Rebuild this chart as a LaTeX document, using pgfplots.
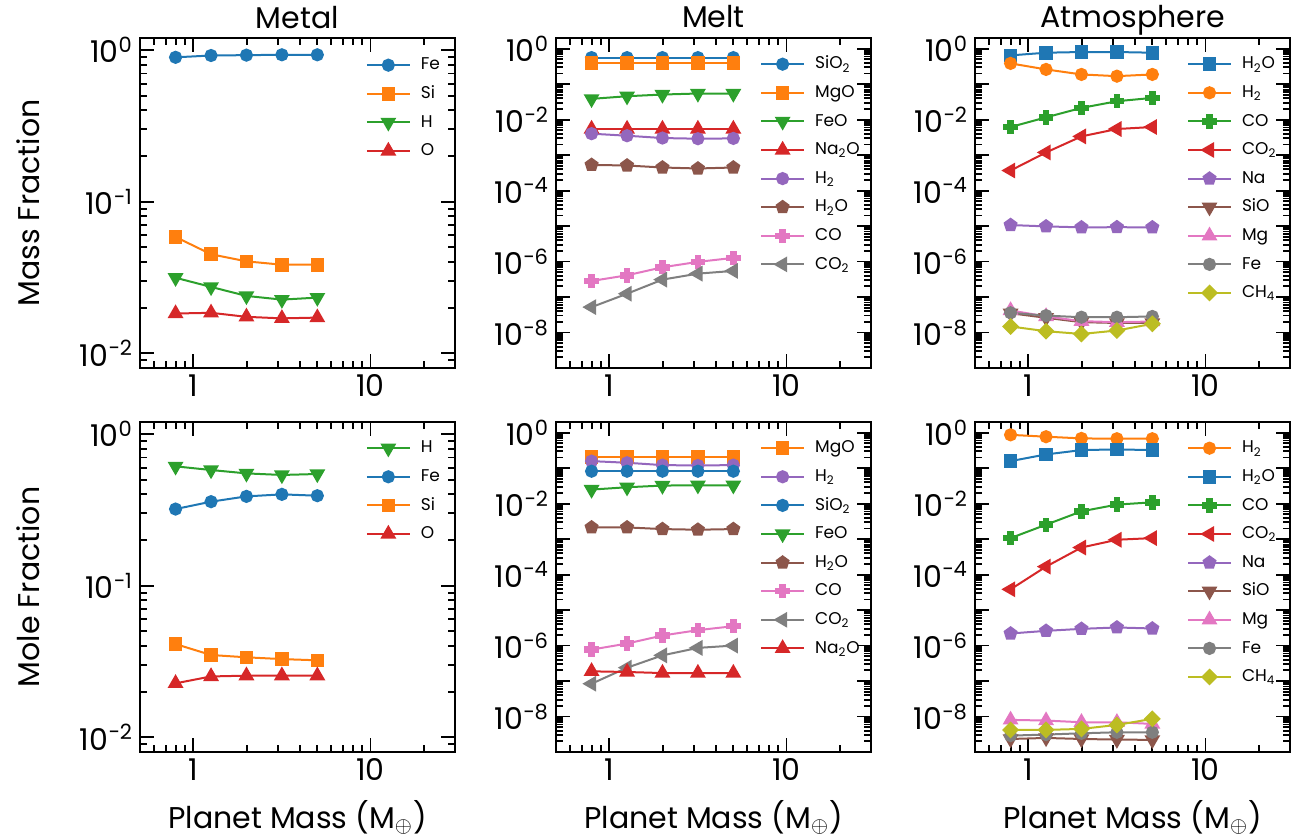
\documentclass[border=0pt]{standalone}
\usepackage{fontspec}
\setmainfont{Poppins}
\usepackage{pgfplots}
\pgfplotsset{compat=1.18}
\definecolor{tabblue}{HTML}{1F77B4}
\definecolor{taborange}{HTML}{FF7F0E}
\definecolor{tabgreen}{HTML}{2CA02C}
\definecolor{tabred}{HTML}{D62728}
\definecolor{tabpurple}{HTML}{9467BD}
\definecolor{tabbrown}{HTML}{8C564B}
\definecolor{tabpink}{HTML}{E377C2}
\definecolor{tabgray}{HTML}{7F7F7F}
\definecolor{tabolive}{HTML}{BCBD22}
\pgfdeclareplotmark{Pplus}{%
  \pgfpathmoveto{\pgfqpoint{-0.36\pgfplotmarksize}{\pgfplotmarksize}}%
  \pgfpathlineto{\pgfqpoint{0.36\pgfplotmarksize}{\pgfplotmarksize}}%
  \pgfpathlineto{\pgfqpoint{0.36\pgfplotmarksize}{0.36\pgfplotmarksize}}%
  \pgfpathlineto{\pgfqpoint{\pgfplotmarksize}{0.36\pgfplotmarksize}}%
  \pgfpathlineto{\pgfqpoint{\pgfplotmarksize}{-0.36\pgfplotmarksize}}%
  \pgfpathlineto{\pgfqpoint{0.36\pgfplotmarksize}{-0.36\pgfplotmarksize}}%
  \pgfpathlineto{\pgfqpoint{0.36\pgfplotmarksize}{-\pgfplotmarksize}}%
  \pgfpathlineto{\pgfqpoint{-0.36\pgfplotmarksize}{-\pgfplotmarksize}}%
  \pgfpathlineto{\pgfqpoint{-0.36\pgfplotmarksize}{-0.36\pgfplotmarksize}}%
  \pgfpathlineto{\pgfqpoint{-\pgfplotmarksize}{-0.36\pgfplotmarksize}}%
  \pgfpathlineto{\pgfqpoint{-\pgfplotmarksize}{0.36\pgfplotmarksize}}%
  \pgfpathlineto{\pgfqpoint{-0.36\pgfplotmarksize}{0.36\pgfplotmarksize}}%
  \pgfpathclose\pgfusepathqfillstroke}
\newcommand\pw[1]{10\textsuperscript{#1}}
\tikzset{
  mkO/.style={mark=*, mark size=2.8pt},
  mkS/.style={mark=square*, mark size=2.9pt},
  mkV/.style={mark=triangle*, mark size=3.6pt, mark options={rotate=180}},
  mkA/.style={mark=triangle*, mark size=3.6pt},
  mkL/.style={mark=triangle*, mark size=3.6pt, mark options={rotate=90}},
  mkPe/.style={mark=pentagon*, mark size=3.1pt},
  mkP/.style={mark=Pplus, mark size=3.1pt},
  mkD/.style={mark=square*, mark size=2.5pt, mark options={rotate=45}},
}
\pgfplotsset{
  every axis/.append style={
    scale only axis, width=157.5pt, height=165pt,
    xmin=0.5, xmax=30, xtick={1,10}, xticklabels={1,10},
    minor xtick={0.5,0.6,0.7,0.8,0.9,2,3,4,5,6,7,8,9,20,30},
    tick align=inside, major tick length=7pt, minor tick length=3.5pt,
    tick style={black, line width=0.9pt},
    axis line style={line width=1.4pt},
    tick label style={font=\fontsize{15}{18}\selectfont},
    xticklabel style={inner sep=1pt, yshift=-2pt},
    label style={font=\fontsize{15}{18}\selectfont},
    title style={font=\fontsize{15}{18}\selectfont, at={(axis description cs:0.5,1)}, anchor=base, yshift=-1pt},
    xlabel style={at={(axis description cs:0.5,0)}, anchor=base, yshift=-38pt},
    ylabel style={at={(axis description cs:-0.3206,0.5)}, anchor=base},
    legend style={draw=none, fill=none, font=\fontsize{8.5}{9}\selectfont, inner sep=0pt, outer sep=0pt,
      row sep=6.6pt, column sep=5pt, anchor=north west,
      nodes={inner sep=0pt, text height=6.2pt, text depth=1.5pt}},
    legend cell align=left,
    legend image code/.code={\draw[mark repeat=2,mark phase=2] plot coordinates {(0pt,0pt) (10.75pt,0pt) (21.5pt,0pt)};},
  },
  every axis plot/.append style={line width=1pt},
}
\begin{document}
\begin{tikzpicture}
\useasboundingbox (0,0) rectangle (652pt,418.5pt);
% ---------- Top left: Metal mass
\begin{loglogaxis}[at={(70pt,234.5pt)}, anchor=south west, title={Metal}, ylabel={Mass Fraction},
  ymin=0.008, ymax=1.2, ytick={0.01,0.1,1}, yticklabels={\pw{−2},\pw{−1},\pw{0}},
  minor ytick={0.008,0.009,0.02,0.03,0.04,0.05,0.06,0.07,0.08,0.09,0.2,0.3,0.4,0.5,0.6,0.7,0.8,0.9},
  legend style={at={(axis description cs:0.717,0.941)}}]
\addplot[tabblue, mkO] coordinates {(0.794,0.895) (1.259,0.92) (1.995,0.925) (3.162,0.93) (5.012,0.93)};
\addlegendentry{Fe}
\addplot[taborange, mkS] coordinates {(0.794,0.0585) (1.259,0.045) (1.995,0.0404) (3.162,0.0384) (5.012,0.0384)};
\addlegendentry{Si}
\addplot[tabgreen, mkV] coordinates {(0.794,0.0315) (1.259,0.0274) (1.995,0.0239) (3.162,0.0226) (5.012,0.0233)};
\addlegendentry{H}
\addplot[tabred, mkA] coordinates {(0.794,0.0183) (1.259,0.0185) (1.995,0.0174) (3.162,0.0170) (5.012,0.0172)};
\addlegendentry{O}
\end{loglogaxis}
% ---------- Top middle: Melt mass
\begin{loglogaxis}[at={(278pt,234.5pt)}, anchor=south west, title={Melt},
  ymin=1e-9, ymax=2, ytick={1e-9,1e-8,1e-7,1e-6,1e-5,1e-4,1e-3,1e-2,1e-1,1},
  yticklabels={,\pw{−8},,\pw{−6},,\pw{−4},,\pw{−2},,\pw{0}},
  minor ytick={2e-9,3e-9,4e-9,5e-9,6e-9,7e-9,8e-9,9e-9,2e-8,3e-8,4e-8,5e-8,6e-8,7e-8,8e-8,9e-8,2e-7,3e-7,4e-7,5e-7,6e-7,7e-7,8e-7,9e-7,2e-6,3e-6,4e-6,5e-6,6e-6,7e-6,8e-6,9e-6,2e-5,3e-5,4e-5,5e-5,6e-5,7e-5,8e-5,9e-5,2e-4,3e-4,4e-4,5e-4,6e-4,7e-4,8e-4,9e-4,2e-3,3e-3,4e-3,5e-3,6e-3,7e-3,8e-3,9e-3,2e-2,3e-2,4e-2,5e-2,6e-2,7e-2,8e-2,9e-2,0.2,0.3,0.4,0.5,0.6,0.7,0.8,0.9},
  legend style={at={(axis description cs:0.648,0.944)}}]
\addplot[tabblue, mkO] coordinates {(0.794,0.56) (1.259,0.56) (1.995,0.56) (3.162,0.56) (5.012,0.56)};
\addlegendentry{SiO\textsubscript{2}}
\addplot[taborange, mkS] coordinates {(0.794,0.40) (1.259,0.40) (1.995,0.40) (3.162,0.40) (5.012,0.40)};
\addlegendentry{MgO}
\addplot[tabgreen, mkV] coordinates {(0.794,0.0385) (1.259,0.0457) (1.995,0.051) (3.162,0.0545) (5.012,0.0545)};
\addlegendentry{FeO}
\addplot[tabred, mkA] coordinates {(0.794,0.00545) (1.259,0.00545) (1.995,0.00545) (3.162,0.00545) (5.012,0.00545)};
\addlegendentry{Na\textsubscript{2}O}
\addplot[tabpurple, mkO] coordinates {(0.794,0.00402) (1.259,0.00352) (1.995,0.00303) (3.162,0.0029) (5.012,0.00296)};
\addlegendentry{H\textsubscript{2}}
\addplot[tabbrown, mkPe] coordinates {(0.794,5.3e-4) (1.259,5.1e-4) (1.995,4.48e-4) (3.162,4.2e-4) (5.012,4.48e-4)};
\addlegendentry{H\textsubscript{2}O}
\addplot[tabpink, mkP] coordinates {(0.794,2.84e-7) (1.259,4.1e-7) (1.995,6.9e-7) (3.162,9.8e-7) (5.012,1.27e-6)};
\addlegendentry{CO}
\addplot[tabgray, mkL] coordinates {(0.794,5.2e-8) (1.259,1.24e-7) (1.995,3.1e-7) (3.162,4.57e-7) (5.012,5.45e-7)};
\addlegendentry{CO\textsubscript{2}}
\end{loglogaxis}
% ---------- Top right: Atmosphere mass
\begin{loglogaxis}[at={(487.5pt,234.5pt)}, anchor=south west, title={Atmosphere},
  ymin=1e-9, ymax=2, ytick={1e-9,1e-8,1e-7,1e-6,1e-5,1e-4,1e-3,1e-2,1e-1,1},
  yticklabels={,\pw{−8},,\pw{−6},,\pw{−4},,\pw{−2},,\pw{0}},
  minor ytick={2e-9,3e-9,4e-9,5e-9,6e-9,7e-9,8e-9,9e-9,2e-8,3e-8,4e-8,5e-8,6e-8,7e-8,8e-8,9e-8,2e-7,3e-7,4e-7,5e-7,6e-7,7e-7,8e-7,9e-7,2e-6,3e-6,4e-6,5e-6,6e-6,7e-6,8e-6,9e-6,2e-5,3e-5,4e-5,5e-5,6e-5,7e-5,8e-5,9e-5,2e-4,3e-4,4e-4,5e-4,6e-4,7e-4,8e-4,9e-4,2e-3,3e-3,4e-3,5e-3,6e-3,7e-3,8e-3,9e-3,2e-2,3e-2,4e-2,5e-2,6e-2,7e-2,8e-2,9e-2,0.2,0.3,0.4,0.5,0.6,0.7,0.8,0.9},
  legend style={at={(axis description cs:0.673,0.944)}}]
\addplot[tabblue, mkS] coordinates {(0.794,0.647) (1.259,0.77) (1.995,0.805) (3.162,0.805) (5.012,0.77)};
\addlegendentry{H\textsubscript{2}O}
\addplot[taborange, mkO] coordinates {(0.794,0.385) (1.259,0.26) (1.995,0.188) (3.162,0.168) (5.012,0.188)};
\addlegendentry{H\textsubscript{2}}
\addplot[tabgreen, mkP] coordinates {(0.794,6.2e-3) (1.259,0.0116) (1.995,0.0214) (3.162,0.033) (5.012,0.041)};
\addlegendentry{CO}
\addplot[tabred, mkL] coordinates {(0.794,3.68e-4) (1.259,1.19e-3) (1.995,3.37e-3) (3.162,5.44e-3) (5.012,6.2e-3)};
\addlegendentry{CO\textsubscript{2}}
\addplot[tabpurple, mkPe] coordinates {(0.794,1.07e-5) (1.259,9.8e-6) (1.995,9.2e-6) (3.162,9.3e-6) (5.012,9.2e-6)};
\addlegendentry{Na}
\addplot[tabbrown, mkV] coordinates {(0.794,3.5e-8) (1.259,2.6e-8) (1.995,1.96e-8) (3.162,1.86e-8) (5.012,1.86e-8)};
\addlegendentry{SiO}
\addplot[tabpink, mkA] coordinates {(0.794,4.2e-8) (1.259,2.84e-8) (1.995,2.09e-8) (3.162,1.96e-8) (5.012,2.04e-8)};
\addlegendentry{Mg}
\addplot[tabgray, mkO] coordinates {(0.794,3.6e-8) (1.259,3.0e-8) (1.995,2.7e-8) (3.162,2.7e-8) (5.012,2.84e-8)};
\addlegendentry{Fe}
\addplot[tabolive, mkD] coordinates {(0.794,1.48e-8) (1.259,1.09e-8) (1.995,9.1e-9) (3.162,1.14e-8) (5.012,1.76e-8)};
\addlegendentry{CH\textsubscript{4}}
\end{loglogaxis}
% ---------- Bottom left: Metal mole
\begin{loglogaxis}[at={(70pt,42.5pt)}, anchor=south west, ylabel={Mole Fraction}, xlabel={Planet Mass (M$_\oplus$)},
  ymin=0.008, ymax=1.2, ytick={0.01,0.1,1}, yticklabels={\pw{−2},\pw{−1},\pw{0}},
  minor ytick={0.008,0.009,0.02,0.03,0.04,0.05,0.06,0.07,0.08,0.09,0.2,0.3,0.4,0.5,0.6,0.7,0.8,0.9},
  legend style={at={(axis description cs:0.717,0.944)}}]
\addplot[tabgreen, mkV] coordinates {(0.794,0.612) (1.259,0.579) (1.995,0.550) (3.162,0.537) (5.012,0.545)};
\addlegendentry{H}
\addplot[tabblue, mkO] coordinates {(0.794,0.320) (1.259,0.358) (1.995,0.388) (3.162,0.400) (5.012,0.392)};
\addlegendentry{Fe}
\addplot[taborange, mkS] coordinates {(0.794,0.0412) (1.259,0.0349) (1.995,0.0337) (3.162,0.0328) (5.012,0.0322)};
\addlegendentry{Si}
\addplot[tabred, mkA] coordinates {(0.794,0.0227) (1.259,0.0252) (1.995,0.0255) (3.162,0.0255) (5.012,0.0255)};
\addlegendentry{O}
\end{loglogaxis}
% ---------- Bottom middle: Melt mole
\begin{loglogaxis}[at={(278pt,42.5pt)}, anchor=south west, xlabel={Planet Mass (M$_\oplus$)},
  ymin=1e-9, ymax=2, ytick={1e-9,1e-8,1e-7,1e-6,1e-5,1e-4,1e-3,1e-2,1e-1,1},
  yticklabels={,\pw{−8},,\pw{−6},,\pw{−4},,\pw{−2},,\pw{0}},
  minor ytick={2e-9,3e-9,4e-9,5e-9,6e-9,7e-9,8e-9,9e-9,2e-8,3e-8,4e-8,5e-8,6e-8,7e-8,8e-8,9e-8,2e-7,3e-7,4e-7,5e-7,6e-7,7e-7,8e-7,9e-7,2e-6,3e-6,4e-6,5e-6,6e-6,7e-6,8e-6,9e-6,2e-5,3e-5,4e-5,5e-5,6e-5,7e-5,8e-5,9e-5,2e-4,3e-4,4e-4,5e-4,6e-4,7e-4,8e-4,9e-4,2e-3,3e-3,4e-3,5e-3,6e-3,7e-3,8e-3,9e-3,2e-2,3e-2,4e-2,5e-2,6e-2,7e-2,8e-2,9e-2,0.2,0.3,0.4,0.5,0.6,0.7,0.8,0.9},
  legend style={at={(axis description cs:0.648,0.944)}}]
\addplot[taborange, mkS] coordinates {(0.794,0.205) (1.259,0.205) (1.995,0.205) (3.162,0.205) (5.012,0.205)};
\addlegendentry{MgO}
\addplot[tabpurple, mkO] coordinates {(0.794,0.158) (1.259,0.142) (1.995,0.122) (3.162,0.119) (5.012,0.122)};
\addlegendentry{H\textsubscript{2}}
\addplot[tabblue, mkO] coordinates {(0.794,0.082) (1.259,0.082) (1.995,0.082) (3.162,0.082) (5.012,0.082)};
\addlegendentry{SiO\textsubscript{2}}
\addplot[tabgreen, mkV] coordinates {(0.794,0.0249) (1.259,0.029) (1.995,0.0323) (3.162,0.033) (5.012,0.033)};
\addlegendentry{FeO}
\addplot[tabbrown, mkPe] coordinates {(0.794,2.14e-3) (1.259,2.14e-3) (1.995,1.92e-3) (3.162,1.84e-3) (5.012,1.92e-3)};
\addlegendentry{H\textsubscript{2}O}
\addplot[tabpink, mkP] coordinates {(0.794,7.7e-7) (1.259,1.14e-6) (1.995,1.92e-6) (3.162,2.72e-6) (5.012,3.52e-6)};
\addlegendentry{CO}
\addplot[tabgray, mkL] coordinates {(0.794,8.4e-8) (1.259,2.38e-7) (1.995,5.3e-7) (3.162,8.6e-7) (5.012,1.0e-6)};
\addlegendentry{CO\textsubscript{2}}
\addplot[tabred, mkA] coordinates {(0.794,1.88e-7) (1.259,1.8e-7) (1.995,1.68e-7) (3.162,1.68e-7) (5.012,1.68e-7)};
\addlegendentry{Na\textsubscript{2}O}
\end{loglogaxis}
% ---------- Bottom right: Atmosphere mole
\begin{loglogaxis}[at={(487.5pt,42.5pt)}, anchor=south west, xlabel={Planet Mass (M$_\oplus$)},
  ymin=1e-9, ymax=2, ytick={1e-9,1e-8,1e-7,1e-6,1e-5,1e-4,1e-3,1e-2,1e-1,1},
  yticklabels={,\pw{−8},,\pw{−6},,\pw{−4},,\pw{−2},,\pw{0}},
  minor ytick={2e-9,3e-9,4e-9,5e-9,6e-9,7e-9,8e-9,9e-9,2e-8,3e-8,4e-8,5e-8,6e-8,7e-8,8e-8,9e-8,2e-7,3e-7,4e-7,5e-7,6e-7,7e-7,8e-7,9e-7,2e-6,3e-6,4e-6,5e-6,6e-6,7e-6,8e-6,9e-6,2e-5,3e-5,4e-5,5e-5,6e-5,7e-5,8e-5,9e-5,2e-4,3e-4,4e-4,5e-4,6e-4,7e-4,8e-4,9e-4,2e-3,3e-3,4e-3,5e-3,6e-3,7e-3,8e-3,9e-3,2e-2,3e-2,4e-2,5e-2,6e-2,7e-2,8e-2,9e-2,0.2,0.3,0.4,0.5,0.6,0.7,0.8,0.9},
  legend style={at={(axis description cs:0.673,0.944)}}]
\addplot[taborange, mkO] coordinates {(0.794,0.87) (1.259,0.77) (1.995,0.69) (3.162,0.676) (5.012,0.676)};
\addlegendentry{H\textsubscript{2}}
\addplot[tabblue, mkS] coordinates {(0.794,0.158) (1.259,0.244) (1.995,0.323) (3.162,0.338) (5.012,0.323)};
\addlegendentry{H\textsubscript{2}O}
\addplot[tabgreen, mkP] coordinates {(0.794,1.07e-3) (1.259,2.55e-3) (1.995,6.07e-3) (3.162,9.4e-3) (5.012,0.0109)};
\addlegendentry{CO}
\addplot[tabred, mkL] coordinates {(0.794,3.85e-5) (1.259,1.68e-4) (1.995,5.8e-4) (3.162,9.6e-4) (5.012,1.07e-3)};
\addlegendentry{CO\textsubscript{2}}
\addplot[tabpurple, mkPe] coordinates {(0.794,2.19e-6) (1.259,2.6e-6) (1.995,2.96e-6) (3.162,3.24e-6) (5.012,3.03e-6)};
\addlegendentry{Na}
\addplot[tabbrown, mkV] coordinates {(0.794,2.33e-9) (1.259,2.49e-9) (1.995,2.33e-9) (3.162,2.24e-9) (5.012,2.2e-9)};
\addlegendentry{SiO}
\addplot[tabpink, mkA] coordinates {(0.794,8.05e-9) (1.259,7.7e-9) (1.995,6.9e-9) (3.162,6.9e-9) (5.012,6.2e-9)};
\addlegendentry{Mg}
\addplot[tabgray, mkO] coordinates {(0.794,2.9e-9) (1.259,3.1e-9) (1.995,3.37e-9) (3.162,3.6e-9) (5.012,3.6e-9)};
\addlegendentry{Fe}
\addplot[tabolive, mkD] coordinates {(0.794,4.2e-9) (1.259,4.2e-9) (1.995,4.48e-9) (3.162,5.8e-9) (5.012,8.6e-9)};
\addlegendentry{CH\textsubscript{4}}
\end{loglogaxis}
\end{tikzpicture}
\end{document}
